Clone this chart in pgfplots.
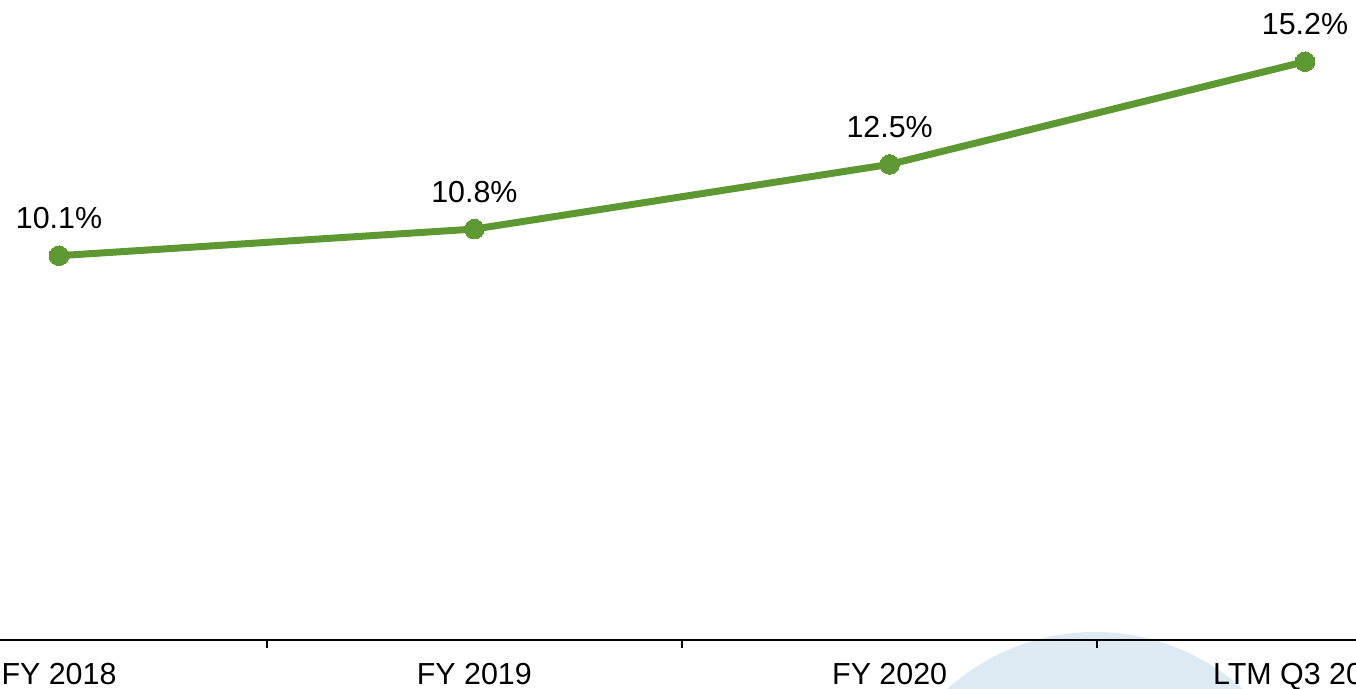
\documentclass[border=0pt]{standalone}
\usepackage{pgfplots}
\pgfplotsset{compat=1.18}
\usepackage{fontspec}
\setmainfont{Liberation Sans}
\definecolor{linegreen}{RGB}{93,152,50}
\definecolor{wm}{RGB}{221,233,243}
\begin{document}
\begin{tikzpicture}
\path[use as bounding box] (0,-24.5bp) rectangle (678bp,320bp);
\clip (0,-24.5bp) rectangle (678bp,320bp);
\fill[wm] (547.5bp,-106bp) circle[radius=110bp];
\begin{axis}[
  at={(0,0)}, anchor=south west,
  scale only axis, width=678bp, height=320bp,
  xmin=-0.1421, xmax=3.1228, ymin=0, ymax=16.82,
  axis x line*=bottom, axis y line=none,
  xtick={0,1,2,3}, xticklabels={FY 2018,FY 2019,FY 2020,LTM Q3 2021},
  major tick length=0pt,
  minor xtick={0.5,1.5,2.5}, minor tick length=4bp, tick align=outside,
  x axis line style={black, line width=1bp},
  every minor tick/.style={black, line width=1bp},
  xticklabel style={inner sep=0pt, anchor=north, yshift=-11.5bp, font=\fontsize{15.2bp}{18bp}\selectfont},
  clip=false,
  nodes near coords, point meta=explicit symbolic,
  every node near coord/.style={anchor=base, inner sep=0pt, yshift=13.5bp, black, font=\fontsize{15.2bp}{18bp}\selectfont},
]
\addplot[linegreen, line width=3.5bp, mark=*, mark size=4.9bp, mark options={fill=linegreen, draw=linegreen, line width=0pt}]
  coordinates {(0,10.1)[10.1\%] (1,10.8)[10.8\%] (2,12.5)[12.5\%] (3,15.2)[15.2\%]};
\end{axis}
\end{tikzpicture}
\end{document}
